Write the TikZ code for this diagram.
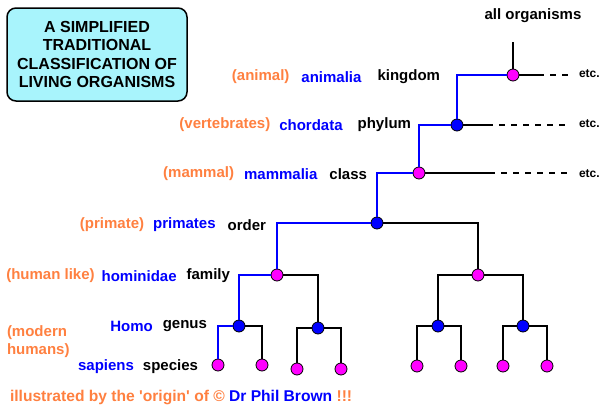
\documentclass[tikz,border=0pt]{standalone}
\usepackage{fontspec}
\setmainfont{Liberation Sans}
\usetikzlibrary{positioning}
\definecolor{tancol}{HTML}{FF8040}
\definecolor{boxcol}{HTML}{A8F4FC}
\definecolor{pinkdot}{HTML}{FF00FF}
\tikzset{
    tree/.style={x=1pt, y=-1pt, line width=2pt, font=\bfseries\fontsize{15}{18}\selectfont,
        every node/.append style={inner sep=0pt}},
    pdot/.style={circle, draw=black, line width=0.8pt, fill=pinkdot, minimum size=12pt},
    bdot/.style={pdot, fill=blue},
    common/.style={text=tancol},
    latin/.style={text=blue},
    rank/.style={anchor=east, text=black},
    etclabel/.style={anchor=west, font=\bfseries\fontsize{12}{14}\selectfont},
    % the human line is blue, the rest of the tree black
    humanline/.style={blue},
    more/.style={dash pattern=on 6pt off 6pt, dash phase=6pt},
}

\begin{document}
\begin{tikzpicture}[tree]
    \useasboundingbox (0,0) rectangle (611,413);

    \node[draw, fill=boxcol, line width=1.5pt, rounded corners=9pt, minimum width=180pt,
        minimum height=93pt, align=center, font=\bfseries\fontsize{16}{18.5}\selectfont]
        (title) at (97,54.5) {A SIMPLIFIED\\TRADITIONAL\\CLASSIFICATION OF\\LIVING ORGANISMS};

    % dots of the tree
    \node[pdot] (dking)  at (513,75)  {};
    \node[bdot] (dphyl)  at (457,125) {};
    \node[pdot] (dclass) at (419,173) {};
    \node[bdot] (dorder) at (377,223) {};
    \node[pdot] (dfam)   at (277,275) {};
    \node[pdot] (dfam2)  at (478,275) {};
    \node[bdot] (dgen)   at (239,326) {};
    \node[bdot] (dgen2)  at (318,328) {};
    \node[bdot] (dgen3)  at (438,326) {};
    \node[bdot] (dgen4)  at (523,326) {};
    \node[pdot] (dsp)    at (218,365) {};
    \node[pdot] (dsp2)   at (262,365) {};
    \node[pdot] (dsp3)   at (297,369) {};
    \node[pdot] (dsp4)   at (341,369) {};
    \node[pdot] (dsp5)   at (417,366) {};
    \node[pdot] (dsp6)   at (461,366) {};
    \node[pdot] (dsp7)   at (503,366) {};
    \node[pdot] (dsp8)   at (547,366) {};

    \coordinate (root) at (513,42);
    \node (allorg) at (533,16) {all organisms};
    \draw (root) -- (dking);

    % the other branches
    \coordinate (kend) at (544,75);
    \coordinate (ketc) at (570,75);
    \coordinate (pend) at (493,125);
    \coordinate (petc) at (570,125);
    \coordinate (cend) at (495,173);
    \coordinate (cetc) at (570,173);
    \draw (dking) -- (kend);
    \draw[more] (kend) -- (ketc);
    \draw (dphyl) -- (pend);
    \draw[more] (pend) -- (petc);
    \draw (dclass) -- (cend);
    \draw[more] (cend) -- (cetc);
    \node[etclabel] (etc1) at (578,74)  {etc.};
    \node[etclabel] (etc2) at (578,124) {etc.};
    \node[etclabel] (etc3) at (578,174) {etc.};

    \draw[humanline] (dking) -| (dphyl);
    \draw[humanline] (dphyl) -| (dclass);
    \draw[humanline] (dclass) -| (dorder);
    \draw[humanline] (dorder) -| (dfam);
    \draw[humanline] (dfam) -| (dgen);
    \draw[humanline] (dgen) -| (dsp);

    \draw (dorder) -| (dfam2);
    \draw (dfam) -| (dgen2);
    \draw (dgen) -| (dsp2);
    \draw (dgen2) -| (dsp3);
    \draw (dgen2) -| (dsp4);
    \draw (dfam2) -| (dgen3);
    \draw (dfam2) -| (dgen4);
    \draw (dgen3) -| (dsp5);
    \draw (dgen3) -| (dsp6);
    \draw (dgen4) -| (dsp7);
    \draw (dgen4) -| (dsp8);

    % labels, row by row
    \node[rank] (kingdom) at (441,77) {kingdom};
    \node[latin, left=14pt of kingdom] (animalia) {animalia};
    \node[common, left=10pt of animalia] (animal) {(animal)};

    \node[rank] (phylum) at (412,125) {phylum};
    \node[latin, left=13pt of phylum] (chordata) {chordata};
    \node[common, left=7pt of chordata] (vertebrates) {(vertebrates)};

    \node[rank] (class) at (368,174) {class};
    \node[latin, left=10pt of class] (mammalia) {mammalia};
    \node[common, left=8pt of mammalia] (mammal) {(mammal)};

    \node[rank] (order) at (267,225) {order};
    \node[latin, left=10pt of order] (primates) {primates};
    \node[common, left=7pt of primates] (primate) {(primate)};

    \node[rank] (family) at (231,276) {family};
    \node[latin, left=8pt of family] (hominidae) {hominidae};
    \node[common, left=5pt of hominidae] (humanlike) {(human like)};

    \node[rank] (genus) at (208,326) {genus};
    \node[latin, left=8pt of genus] (homo) {Homo};

    \node[rank] (species) at (199,367) {species};
    \node[latin, left=7pt of species] (sapiens) {sapiens};

    \node[common, anchor=west, align=left] (modern) at (6,342) {(modern\\humans)};

    \node[common, anchor=west, font=\bfseries\fontsize{15.6}{18}\selectfont] (credit) at (9,397)
        {illustrated by the \textquotesingle origin\textquotesingle{} of \textcopyright{} \textcolor{blue}{Dr Phil Brown} !!!};
\end{tikzpicture}
\end{document}
